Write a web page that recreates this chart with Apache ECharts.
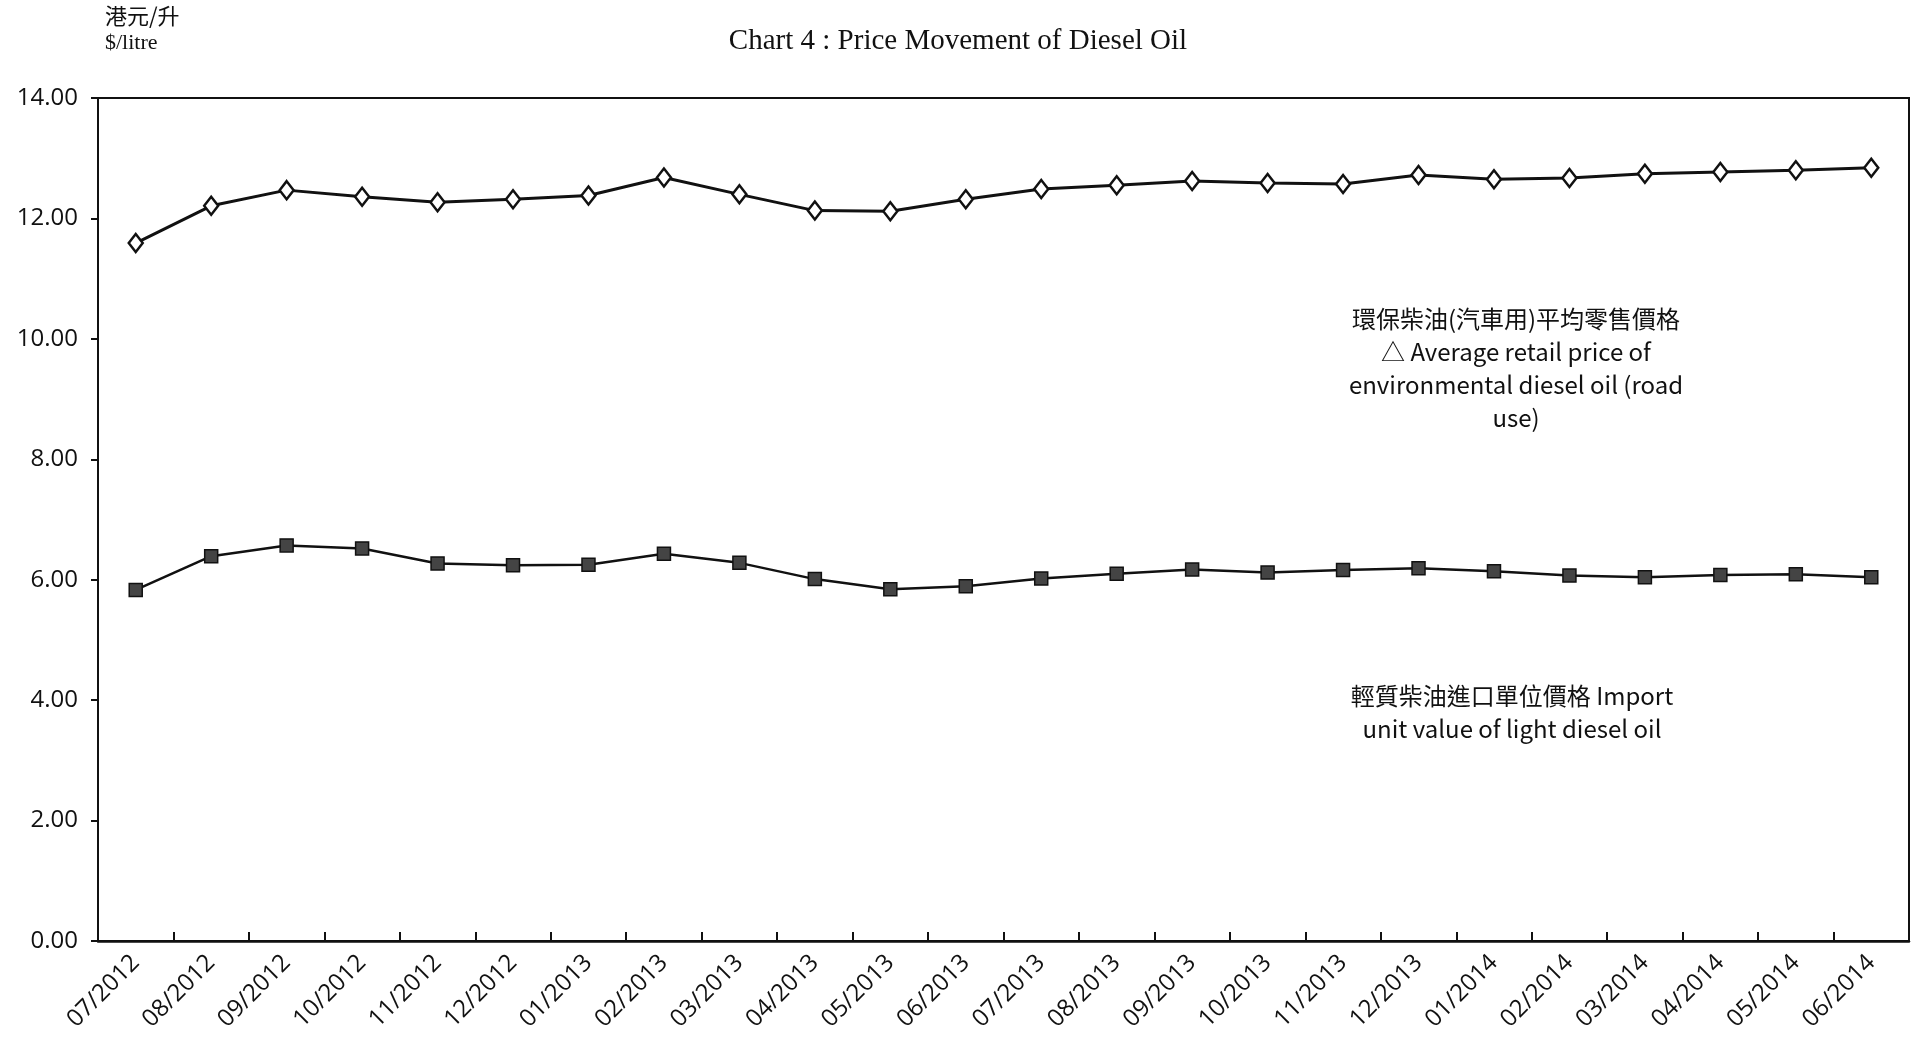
<!DOCTYPE html>
<html>
<head>
<meta charset="utf-8">
<title>Chart 4 : Price Movement of Diesel Oil</title>
<script src="https://cdn.jsdelivr.net/npm/echarts@6/dist/echarts.min.js"></script>
<style>
html,body{margin:0;padding:0;background:#fff;}
#main{width:1917px;height:1063px;}
</style>
</head>
<body>
<div id="main"></div>
<script>
var months = ['07/2012','08/2012','09/2012','10/2012','11/2012','12/2012',
    '01/2013','02/2013','03/2013','04/2013','05/2013','06/2013',
    '07/2013','08/2013','09/2013','10/2013','11/2013','12/2013',
    '01/2014','02/2014','03/2014','04/2014','05/2014','06/2014'];

// 環保柴油(汽車用)平均零售價格
var retailPrice = [11.59, 12.21, 12.47, 12.36, 12.27, 12.32,
    12.38, 12.68, 12.40, 12.13, 12.12, 12.32,
    12.49, 12.55, 12.62, 12.59, 12.57, 12.72,
    12.65, 12.67, 12.74, 12.77, 12.80, 12.84];

// 輕質柴油進口單位價格
var importValue = [5.83, 6.39, 6.57, 6.52, 6.27, 6.24,
    6.25, 6.43, 6.28, 6.01, 5.84, 5.89,
    6.02, 6.10, 6.17, 6.12, 6.16, 6.19,
    6.14, 6.07, 6.04, 6.08, 6.09, 6.04];

var yTicks = {min: 0, max: 14, interval: 2};

var sans = "'Open Sans', 'Noto Sans CJK TC', sans-serif";
var cjk = "'Noto Sans CJK TC', 'Open Sans', sans-serif";

var option = {
    backgroundColor: '#fff',
    animation: false,
    title: {
        text: 'Chart 4 : Price Movement of Diesel Oil',
        left: 953,
        top: 22,
        textAlign: 'center',
        textStyle: {
            fontFamily: "'Liberation Serif', 'DejaVu Serif', serif",
            fontWeight: 'normal',
            fontSize: 29,
            color: '#111'
        }
    },
    grid: {
        left: 98,
        top: 98,
        right: 8,
        bottom: 122,
        show: true,
        borderColor: '#111',
        borderWidth: 2,
        containLabel: false
    },
    xAxis: {
        type: 'category',
        data: months,
        boundaryGap: true,
        axisLine: {lineStyle: {color: '#111', width: 2.5}},
        axisTick: {show: true, inside: true, length: 9, lineStyle: {color: '#111', width: 2}},
        axisLabel: {
            rotate: 45,
            margin: 18,
            interval: 0,
            fontFamily: sans,
            fontSize: 24,
            color: '#111'
        },
        splitLine: {show: false}
    },
    yAxis: {
        type: 'value',
        min: yTicks.min,
        max: yTicks.max,
        interval: yTicks.interval,
        axisLine: {show: true, lineStyle: {color: '#111', width: 2}},
        axisTick: {show: true, length: 7, lineStyle: {color: '#111', width: 2}},
        axisLabel: {
            margin: 20,
            fontFamily: sans,
            fontSize: 24,
            color: '#111',
            formatter: function (v) { return v.toFixed(2); }
        },
        splitLine: {show: false}
    },
    graphic: [
        {type: 'text', x: 105, y: 5, style: {text: '港元/升', font: '22px ' + cjk, fill: '#111'}},
        {type: 'text', x: 105, y: 32, style: {text: '$/litre', font: "22px 'Liberation Serif', serif", fill: '#111'}},
        {type: 'text', x: 1516, y: 302, style: {
            text: '環保柴油(汽車用)平均零售價格\n△ Average retail price of\nenvironmental diesel oil (road\nuse)',
            font: '24px ' + cjk, fill: '#111', align: 'center', verticalAlign: 'top', lineHeight: 33
        }},
        {type: 'text', x: 1512, y: 679, style: {
            text: '輕質柴油進口單位價格 Import\nunit value of light diesel oil',
            font: '24px ' + cjk, fill: '#111', align: 'center', verticalAlign: 'top', lineHeight: 33
        }}
    ],
    series: [
        {
            name: '環保柴油(汽車用)平均零售價格',
            type: 'line',
            data: retailPrice,
            symbol: 'diamond',
            symbolSize: [14, 18],
            lineStyle: {color: '#111', width: 3},
            itemStyle: {color: '#fff', borderColor: '#111', borderWidth: 2.5}
        },
        {
            name: '輕質柴油進口單位價格',
            type: 'line',
            data: importValue,
            symbol: 'rect',
            symbolSize: 13,
            lineStyle: {color: '#111', width: 2.5},
            itemStyle: {color: '#444', borderColor: '#111', borderWidth: 1.5}
        }
    ]
};

echarts.init(document.getElementById('main')).setOption(option);
</script>
</body>
</html>
